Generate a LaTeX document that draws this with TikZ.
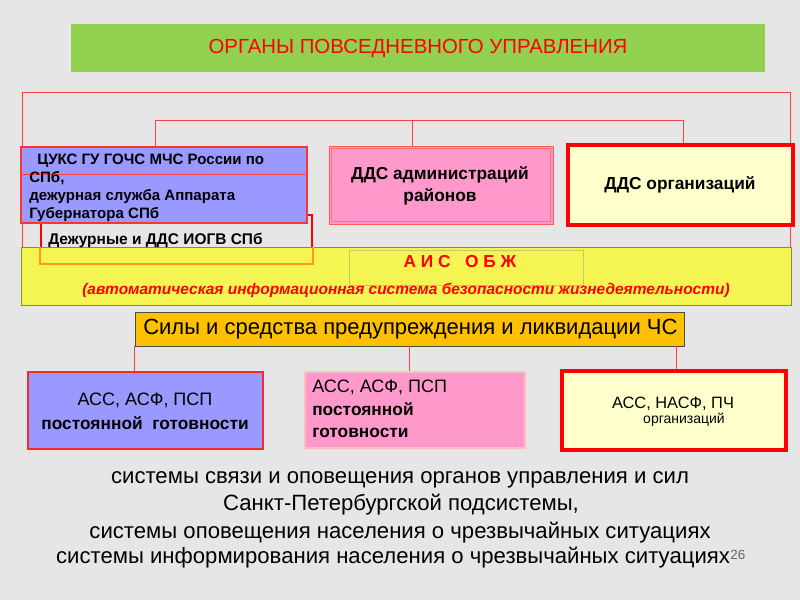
\documentclass[tikz,border=0pt]{standalone}
\usepackage{fontspec}
\setmainfont{Liberation Sans}
\usetikzlibrary{fit}
\definecolor{bg}{HTML}{E6E6E6}
\definecolor{ttlgreen}{HTML}{92D050}
\definecolor{boxblue}{HTML}{9999FF}
\definecolor{boxpink}{HTML}{FF99CC}
\definecolor{lightyel}{HTML}{FFFFCC}
\definecolor{band}{HTML}{F4F452}
\definecolor{bandline}{HTML}{8A8A40}
\definecolor{aisline}{HTML}{C8C860}
\definecolor{orng}{HTML}{FFC000}
\definecolor{frm}{HTML}{FF4040}
\definecolor{pred}{HTML}{FF0000}
\definecolor{ovl}{HTML}{FF9A1A}
\begin{document}
\begin{tikzpicture}[x=0.75pt,y=-0.75pt,
  box/.style={inner sep=0pt},
  txt/.style={inner sep=0pt},
  frame/.style={draw=frm, line width=0.6pt},
  bt/.style={font=\bfseries\fontsize{11.3}{13.5}\selectfont, txt, align=left},
]
\fill[bg] (0,0) rectangle (800,600);
\useasboundingbox (0,0) rectangle (800,600);

% title
\node[box, fill=ttlgreen, fit={(71,24)(765,72)}] (title) {};
\node[txt, text=pred, font=\fontsize{15.3}{18}\selectfont] (titletxt) at (418,48) {ОРГАНЫ ПОВСЕДНЕВНОГО УПРАВЛЕНИЯ};

% boxes first row
\node[box, draw=pred, line width=1.5pt, fit={(41,215)(312,263)}] (dez) {};
\node[box, fill=band, draw=bandline, line width=0.6pt, fit={(21,247)(791,305)}] (ais) {};
\draw[ovl, line width=1.5pt] (dez.west |- ais.north) -- (dez.south west) -- (dez.south east) -- (dez.east |- ais.north);
\node[box, draw=aisline, line width=0.5pt, fit={(349,250)(583,285)}] (aisin) {};
\node[txt, text=pred, font=\bfseries\fontsize{13}{15}\selectfont] (aistxt) at (460,262) {А И С \ \ О Б Ж};
\node[txt, text=pred, font=\bfseries\itshape\fontsize{11.6}{14}\selectfont] (aisdesc) at (406,290) {(автоматическая информационная система безопасности жизнедеятельности)};

% frame lines
\coordinate (fTL) at (22,92);
\coordinate (fTR) at (790,92);
\coordinate (hL) at (155,120);
\coordinate (hM) at (412,120);
\coordinate (hR) at (683,120);
\draw[frame] (fTL) -- (fTR);
\draw[frame] (fTL) -- (fTL |- ais.north);
\draw[frame] (fTR) -- (fTR |- ais.north);
\draw[frame] (hL) -- (hR);

\node[box, fill=boxblue, draw=pred!80, line width=0.8pt, fit={(21,147)(307,223)}] (cuks) {};
\draw[frame] (cuks.west |- 0,174) -- (cuks.east |- 0,174);
\node[bt, anchor=west] (cukstxt) at (29,188) {\hspace*{6pt}ЦУКС ГУ ГОЧС МЧС России по\\СПб,\\дежурная служба Аппарата\\Губернатора СПб};
\node[txt, anchor=west, font=\bfseries\fontsize{11.6}{13}\selectfont] (deztxt) at (48,240) {Дежурные и ДДС ИОГВ СПб};

\node[box, fill=boxpink, draw=pred!65, line width=0.6pt, fit={(329,146)(553,224)}] (rayon) {};
\draw[pred!55, line width=0.5pt] ([shift={(3,3)}]rayon.north west) rectangle ([shift={(-3,-3)}]rayon.south east);
\node[txt, align=center, font=\bfseries\fontsize{13}{16.5}\selectfont] (rayontxt) at (440,186) {ДДС администраций\\районов};

\node[box, fill=lightyel, draw=pred, line width=3pt, fit={(568,145)(793,225)}] (org) {};
\node[txt, font=\bfseries\fontsize{13}{15}\selectfont] (orgtxt) at (680,185) {ДДС организаций};

\draw[frame] (hL) -- (hL |- cuks.north);
\draw[frame] (hM) -- (hM |- rayon.north);
\draw[frame] (hR) -- (hR |- org.north);

% second section
\node[box, fill=orng, draw=gray!60!black, line width=0.5pt, fit={(135,312)(684,346)}] (sily) {};
\node[txt, anchor=west, font=\fontsize{16.5}{19}\selectfont] (silytxt) at (143,329) {Силы и средства предупреждения и ликвидации ЧС};

\node[box, fill=boxblue, draw=pred!85, line width=1.5pt, fit={(28,372)(263,449)}] (ass1) {};
\node[txt, font=\fontsize{13.5}{16}\selectfont] (ass1a) at (145,400) {АСС, АСФ, ПСП};
\node[txt, font=\bfseries\fontsize{13}{16}\selectfont] (ass1b) at (145,423) {постоянной\ \ готовности};

\node[box, fill=boxpink, draw=pred!25, line width=0.8pt, fit={(305,372)(525,448)}] (ass2) {};
\node[txt, anchor=west, font=\fontsize{13.5}{16}\selectfont] (ass2a) at (312,387) {АСС, АСФ, ПСП};
\node[txt, anchor=west, align=left, font=\bfseries\fontsize{13}{16}\selectfont] (ass2b) at (312,420) {постоянной\\готовности};

\node[box, fill=lightyel, draw=pred, line width=3pt, fit={(562,371)(786,450)}] (ass3) {};
\node[txt, font=\fontsize{12.3}{15}\selectfont] (ass3a) at (673,404) {АСС, НАСФ, ПЧ};
\node[txt, font=\fontsize{10.5}{13}\selectfont] (ass3b) at (684,420) {организаций};

\draw[frame] (sily.south west) -- (sily.south west |- ass1.north);
\draw[frame] (sily.south) -- (sily.south |- ass2.north);
\draw[frame] ([xshift=-6]sily.south east) -- ([xshift=-6]sily.south east |- ass3.north);

% bottom text
\node[txt, font=\fontsize{16.6}{18}\selectfont] (b1) at (400,480) {системы связи и оповещения органов управления и сил};
\node[txt, font=\fontsize{16.6}{18}\selectfont] (b2) at (401,505) {Санкт-Петербургской подсистемы,};
\node[txt, font=\fontsize{16.6}{18}\selectfont] (b3) at (400,533) {системы оповещения населения о чрезвычайных ситуациях};
\node[txt, font=\fontsize{16.6}{18}\selectfont] (b4) at (393,558) {системы информирования населения о чрезвычайных ситуациях};
\node[txt, anchor=base west, text=gray!80!black, font=\fontsize{10}{12}\selectfont] (pg) at ([yshift=3pt]b4.base east) {26};
\end{tikzpicture}
\end{document}
